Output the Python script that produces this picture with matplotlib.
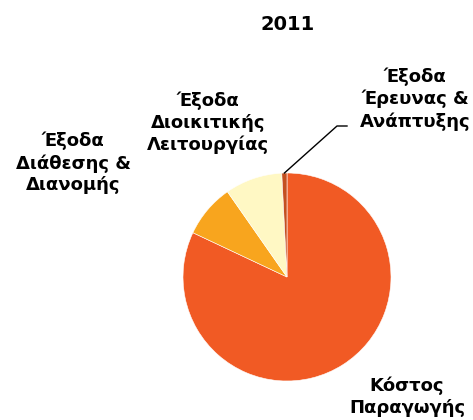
import matplotlib
matplotlib.use('Agg')
import matplotlib.pyplot as plt
import numpy as np

# 2011 cost breakdown (%)
labels = ['Κόστος\nΠαραγωγής', 'Έξοδα\nΔιάθεσης &\nΔιανομής',
          'Έξοδα\nΔιοικιτικής\nΛειτουργίας', 'Έξοδα\nΈρευνας &\nΑνάπτυξης']
values = [82.0, 8.3, 8.9, 0.8]
colors = ['#F15A24', '#F8A51E', '#FFF8C4', '#C4501F']
title = '2011'

W, H = 473, 420
fig = plt.figure(figsize=(W / 100, H / 100), dpi=100)
ax = fig.add_axes([0, 0, 1, 1])

cx, cy, r = 287, H - 277, 104
wedges, _ = ax.pie(values, colors=colors, startangle=90, counterclock=False,
                   center=(cx, cy), radius=r, frame=True,
                   wedgeprops=dict(linewidth=0.4, edgecolor='white'))
ax.set_xlim(0, W)
ax.set_ylim(0, H)
ax.set_aspect('equal')
ax.axis('off')

fs = 13
ax.text(288, H - 25, title, ha='center', va='center', fontsize=14, fontweight='bold')

# label positions (image pixels)
pos = [(407, 397), (73, 163), (208, 123), (415, 99)]
for lab, (x, y) in zip(labels, pos):
    ax.text(x, H - y, lab, ha='center', va='center', fontsize=fs,
            fontweight='bold', linespacing=1.28)

# leader line for the small slice
w = wedges[3]
ang = np.deg2rad((w.theta1 + w.theta2) / 2)
x0, y0 = cx + r * np.cos(ang), cy + r * np.sin(ang)
ax.plot([x0, 337, 347], [y0, H - 126, H - 126], color='black', lw=1)

fig.savefig('out.png', dpi=100)
